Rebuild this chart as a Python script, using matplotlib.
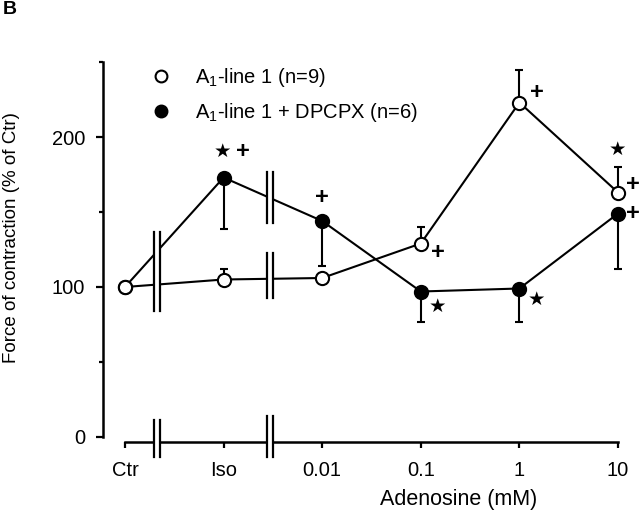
import matplotlib
matplotlib.use("Agg")
import matplotlib.pyplot as plt
from matplotlib.lines import Line2D
from matplotlib.patches import Rectangle

plt.rcParams['font.family'] = ['Liberation Sans', 'DejaVu Sans']
plt.rcParams['mathtext.fontset'] = 'custom'
plt.rcParams['mathtext.rm'] = 'Liberation Sans'

# ---- data ----
categories = ["Ctr", "Iso", "0.01", "0.1", "1", "10"]
a1_mean = [100, 105, 106, 129, 223, 163]
a1_err_up = [0, 7, 0, 11, 22, 17]
dpcpx_mean = [100, 173, 144, 97, 99, 149]
dpcpx_err_down = [0, 34, 30, 20, 22, 37]

# annotations: (series, category index, symbol, dx px, dy px)
annotations = [
    ("dpcpx", 1, "star", -1, 26), ("dpcpx", 1, "plus", 19, 26),
    ("dpcpx", 2, "plus", 0, 24),
    ("a1", 3, "plus", 17, -9),
    ("dpcpx", 3, "star", 17, -15),
    ("a1", 4, "plus", 18, 10),
    ("dpcpx", 4, "star", 17, -11),
    ("a1", 5, "star", -1, 43), ("a1", 5, "plus", 15, 8),
    ("dpcpx", 5, "plus", 15, 0),
]

x = list(range(len(categories)))

fig = plt.figure(figsize=(6.4, 5.17), dpi=100)
ax = fig.add_axes([103/640, (517-441.5)/517, 537/640, 388.5/517])
ax.set_xlim(-0.223, 5.223)
ax.set_ylim(-3, 256)

# lines
ax.plot(x, dpcpx_mean, color='black', lw=1.5, zorder=2)
ax.plot(x, a1_mean, color='black', lw=1.5, zorder=2)

# error bars
ax.errorbar(x, dpcpx_mean, yerr=[dpcpx_err_down, [0]*len(x)], fmt='none',
            ecolor='black', elinewidth=1.5, capsize=3, capthick=1.5, zorder=3)
ax.errorbar(x, a1_mean, yerr=[[0]*len(x), a1_err_up], fmt='none',
            ecolor='black', elinewidth=1.5, capsize=3, capthick=1.5, zorder=3)

# markers
ax.plot(x, dpcpx_mean, ls='none', marker='o', ms=9.5, mfc='black', mec='black',
        mew=1.5, zorder=4)
ax.plot(x, a1_mean, ls='none', marker='o', ms=9.5, mfc='white', mec='black',
        mew=1.5, zorder=5)

# break marks (layout): (x centre, y low, y high)
breaks = [(0.32, 84, 136.7), (1.47, 142.7, 176.7), (1.47, 92.7, 122.7),
          (0.32, -13.3, 11.3), (1.47, -13.3, 14)]
hw = 0.03
for bx, y0, y1 in breaks:
    ax.add_patch(Rectangle((bx - hw, y0 - 1), 2*hw, (y1 - y0) + 2,
                           facecolor='white', edgecolor='none', zorder=6,
                           clip_on=False))
    for xx in (bx - hw, bx + hw):
        ax.add_line(Line2D([xx, xx], [y0, y1], color='black', lw=1.6,
                           zorder=7, clip_on=False))

# significance annotations
series = {"a1": a1_mean, "dpcpx": dpcpx_mean}
for s, i, sym, dx, dy in annotations:
    if sym == "star":
        ax.annotate("★", xy=(x[i], series[s][i]), xytext=(dx, dy),
                    textcoords='offset pixels', ha='center', va='center',
                    fontsize=14, family='DejaVu Sans', zorder=8)
    else:
        ax.annotate("+", xy=(x[i], series[s][i]), xytext=(dx, dy),
                    textcoords='offset pixels', ha='center', va='center',
                    fontsize=17, fontweight='bold', zorder=8)

# spines and ticks
for sp in ('top', 'right'):
    ax.spines[sp].set_visible(False)
ax.spines['left'].set_linewidth(1.8)
ax.spines['bottom'].set_linewidth(1.8)
ax.spines['left'].set_bounds(0, 250)
ax.spines['bottom'].set_bounds(0, 5)

ax.set_yticks([0, 100, 200])
ax.set_yticks([50, 150, 250], minor=True)
ax.set_xticks(x)
ax.set_xticklabels(categories)
ax.tick_params(axis='y', which='major', direction='out', length=5, width=1.6,
               pad=8, labelsize=14.5)
ax.tick_params(axis='y', which='minor', direction='out', length=3, width=1.6)
ax.tick_params(axis='x', which='major', direction='out', length=4, width=1.6,
               pad=10, labelsize=14.5)

ax.set_ylabel("Force of contraction (% of Ctr)", fontsize=13.5)
ax.yaxis.set_label_coords(-0.155, 0.526)
ax.set_xlabel("Adenosine (mM)", fontsize=15.5)
ax.xaxis.set_label_coords(0.663, -0.122)

# legend
h1 = Line2D([], [], ls='none', marker='o', ms=8.5, mfc='white', mec='black', mew=1.5)
h2 = Line2D([], [], ls='none', marker='o', ms=8.5, mfc='black', mec='black', mew=1.5)
ax.legend([h1, h2],
          [r"A$_\mathregular{1}$-line 1 (n=9)",
           r"A$_\mathregular{1}$-line 1 + DPCPX (n=6)"],
          loc='upper left', bbox_to_anchor=(0.0894, 0.966), frameon=False,
          fontsize=14.5, handlelength=1.0, handletextpad=1.2,
          labelspacing=0.6, borderpad=0, borderaxespad=0)

fig.text(0.004, 0.999, "B", fontsize=14, fontweight='bold', va='top', ha='left')

fig.savefig("out.png", dpi=100)
